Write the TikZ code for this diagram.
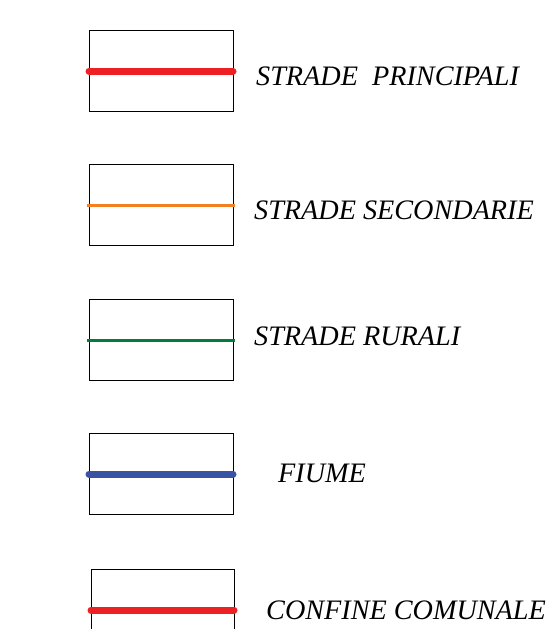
\documentclass[tikz,border=0pt]{standalone}
\usepackage{fontspec}
\setmainfont{Liberation Serif}
\usepackage{tikz}
\usetikzlibrary{calc}

\definecolor{roadred}{RGB}{237,32,36}
\definecolor{roadorange}{RGB}{243,128,32}
\definecolor{roadgreen}{RGB}{0,125,60}
\definecolor{riverblue}{RGB}{57,83,164}

\begin{document}
\begin{tikzpicture}[x=1pt, y=-1pt]
        % Legend formulae
        \pgfmathsetmacro{\boxw}{144}
        \pgfmathsetmacro{\boxh}{81}

        \tikzset{
            legendbox/.style={draw=black, line width=1pt},
            legendtext/.style={anchor=base west, inner sep=0pt,
            font=\fontsize{28.2}{31}\selectfont\itshape},
            thickline/.style={line width=7pt, line cap=round},
            thinline/.style={line width=3pt},
        }

        \useasboundingbox (0, 0) rectangle (548, 629);

        % Corners of the boxes and ends of the sample lines
        \begin{scope}
            \coordinate (A1) at (89, 30);
            \coordinate (A2) at (89, 164);
            \coordinate (A3) at (89, 299);
            \coordinate (A4) at (89, 433);

            \coordinate (L1) at (89, 71);
            \coordinate (R1) at (233, 71);
            \coordinate (L2) at (87, 205);
            \coordinate (R2) at (235, 205);
            \coordinate (L3) at (87, 340);
            \coordinate (R3) at (235, 340);
            \coordinate (L4) at (89, 474);
            \coordinate (R4) at (233, 474);
            \coordinate (L5) at (91, 610);
            \coordinate (R5) at (234, 610);

            \coordinate (E1) at (91, 629);
            \coordinate (E2) at (91, 569);
            \coordinate (E3) at (234, 569);
            \coordinate (E4) at (234, 629);
        \end{scope}

        % Boxes
        \begin{scope}[legendbox]
            \draw (A1) rectangle ++(\boxw, \boxh);
            \draw (A2) rectangle ++(\boxw, \boxh);
            \draw (A3) rectangle ++(\boxw, \boxh);
            \draw (A4) rectangle ++(\boxw, \boxh);
            \draw (E1) -- (E2) -- (E3) -- (E4);
        \end{scope}

        % Sample lines
        \draw[thickline, roadred] (L1) -- (R1);
        \draw[thinline, roadorange] (L2) -- (R2);
        \draw[thinline, roadgreen] (L3) -- (R3);
        \draw[thickline, riverblue] (L4) -- (R4);
        \draw[thickline, roadred] (L5) -- (R5);

        % Labels
        \node[legendtext] (T1) at (256, 85) {STRADE\ \ PRINCIPALI};
        \node[legendtext] (T2) at (254, 219) {STRADE SECONDARIE};
        \node[legendtext] (T3) at (254, 345) {STRADE RURALI};
        \node[legendtext] (T4) at (278, 482) {FIUME};
        \node[legendtext] (T5) at (266, 619) {CONFINE COMUNALE};

        \end{tikzpicture}
\end{document}
